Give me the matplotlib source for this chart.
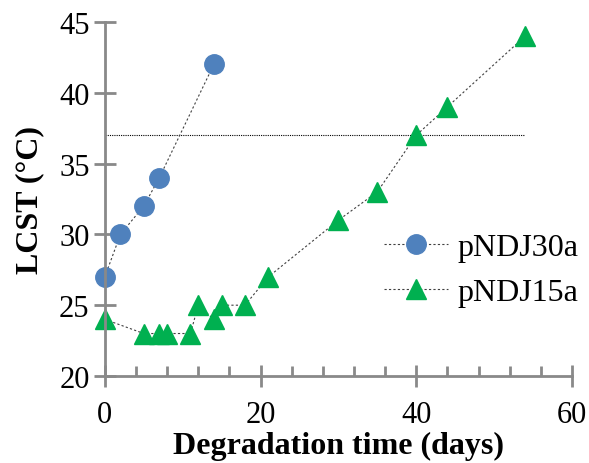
import matplotlib
matplotlib.use("Agg")
import matplotlib.pyplot as plt
from matplotlib.ticker import MultipleLocator

plt.rcParams['font.family'] = ['Liberation Serif', 'DejaVu Serif']

days_30a = [0, 2, 5, 7, 14]
lcst_30a = [27, 30, 32, 34, 42]

days_15a = [0, 5, 7, 8, 11, 12, 14, 15, 18, 21, 30, 35, 40, 44, 54]
lcst_15a = [24, 23, 23, 23, 23, 25, 24, 25, 25, 27, 31, 33, 37, 39, 44]

body_temp = 37
ref_line_x = [0, 54]

axis_grey = '#898989'

fig = plt.figure(figsize=(5.89, 4.64), dpi=100)
ax = fig.add_axes([0.178, 0.1875, 0.793, 0.763])

ax.plot(ref_line_x, [body_temp, body_temp], color='black', lw=0.8, ls=(0, (1, 1)))
ax.plot(days_30a, lcst_30a, color='#404040', lw=0.8, ls=(0, (2, 2)),
        marker='o', ms=14, mfc='#4F81BD', mec='#4F81BD', label='pNDJ30a', clip_on=False)
ax.plot(days_15a, lcst_15a, color='#404040', lw=0.8, ls=(0, (2, 2)),
        marker='^', ms=14, mfc='#00B050', mec='#00B050', label='pNDJ15a', clip_on=False)

ax.set_xlim(0, 60)
ax.set_ylim(20, 45)
ax.xaxis.set_major_locator(MultipleLocator(20))
ax.xaxis.set_minor_locator(MultipleLocator(4))
ax.yaxis.set_major_locator(MultipleLocator(5))

for side in ['top', 'right']:
    ax.spines[side].set_visible(False)
for side in ['left', 'bottom']:
    ax.spines[side].set_color(axis_grey)
    ax.spines[side].set_linewidth(2)

ax.tick_params(which='major', direction='inout', length=16, width=2, color=axis_grey,
               labelsize=22, pad=3)
ax.tick_params(axis='x', which='minor', direction='in', length=7, width=2, color=axis_grey)
ax.tick_params(axis='x', which='major', pad=9)

ax.set_xlabel('Degradation time (days)', fontsize=23, fontweight='bold', labelpad=2)
ax.set_ylabel('LCST (°C)', fontsize=23, fontweight='bold', labelpad=11)

ax.legend(loc='center left', bbox_to_anchor=(0.563, 0.30), frameon=False, fontsize=23,
          handlelength=2.0, handletextpad=0.3, labelspacing=0.5, borderpad=0)

fig.savefig('out.png', dpi=100)
